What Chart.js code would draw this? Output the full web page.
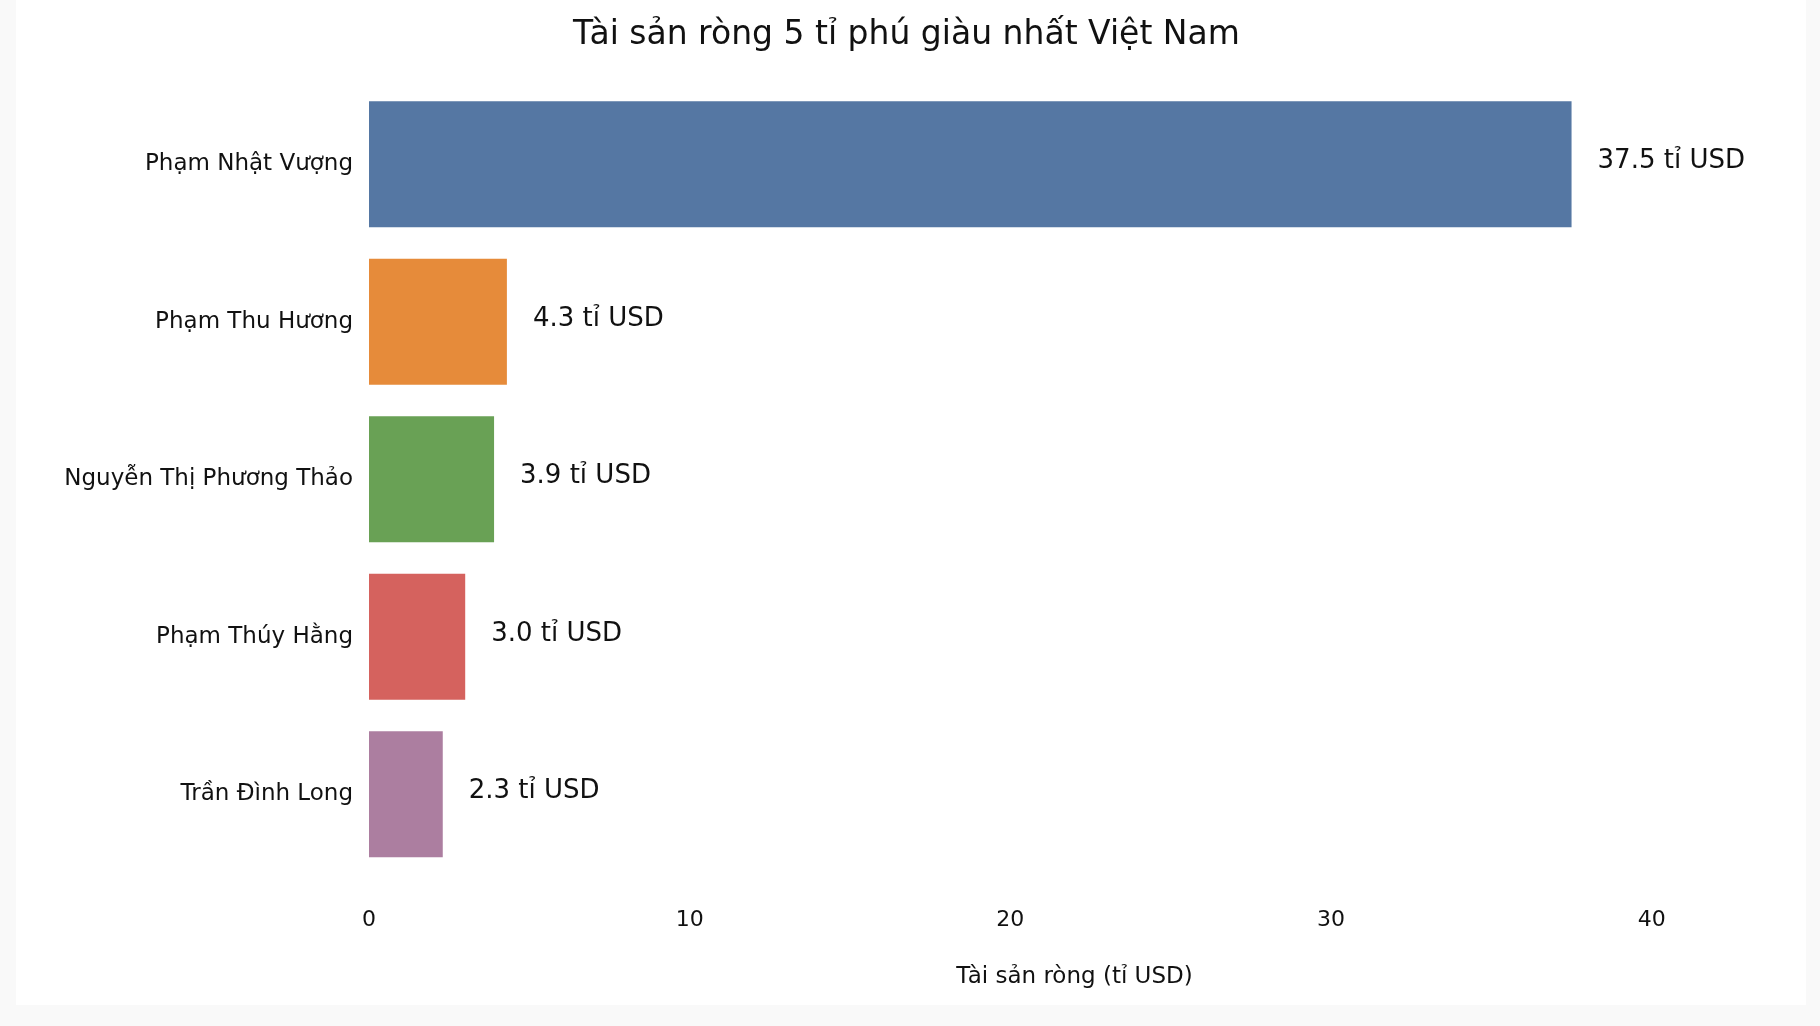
<!DOCTYPE html>
<html><head><meta charset="utf-8">
<script src="https://cdn.jsdelivr.net/npm/chart.js@4"></script>
<style>
html,body{margin:0;padding:0;background:#f9f9f9;width:1820px;height:1026px;overflow:hidden}
#wrap{position:absolute;left:16px;top:0;width:1790px;height:1005px;background:#fff}
</style></head><body>
<div id="wrap"><canvas id="c"></canvas></div>
<script>
const categories = ["Phạm Nhật Vượng","Phạm Thu Hương","Nguyễn Thị Phương Thảo","Phạm Thúy Hằng","Trần Đình Long"];
const values = [37.5, 4.3, 3.9, 3.0, 2.3];
const colors = ["#5577a3","#e68b3a","#69a155","#d5625e","#ac7ea0"];
const FONT = "'DejaVu Sans', sans-serif";
const labelPlugin = {
  id:'labels',
  afterDatasetsDraw(chart){
    const ctx = chart.ctx, meta = chart.getDatasetMeta(0);
    ctx.save();
    ctx.font = "26px " + FONT; ctx.fillStyle = "#111"; ctx.textBaseline = "middle";
    meta.data.forEach((b,i)=>{ ctx.fillText(values[i].toFixed(1)+" tỉ USD", b.x+26, b.y-3); });
    ctx.restore();
  }
};
new Chart(document.getElementById('c'), {
  type:'bar',
  data:{labels:categories, datasets:[{data:values, backgroundColor:colors, categoryPercentage:1, barPercentage:0.8}]},
  plugins:[labelPlugin],
  options:{
    indexAxis:'y', responsive:true, maintainAspectRatio:false, animation:false,
    layout:{padding:{left:0,right:9,top:0,bottom:10}},
    plugins:{legend:{display:false}, tooltip:{enabled:false},
      title:{display:true, text:"Tài sản ròng 5 tỉ phú giàu nhất Việt Nam", color:"#111",
        font:{family:FONT,size:33,weight:'normal'}, padding:{top:16,bottom:30}}},
    scales:{
      x:{min:0,max:44, grid:{display:false}, border:{display:false},
        ticks:{stepSize:10, color:"#111", font:{family:FONT,size:22}, padding:26,
          callback:v=> v%10===0 ? v : ''},
        title:{display:true,text:"Tài sản ròng (tỉ USD)",color:"#111",font:{family:FONT,size:23},padding:{top:4}}},
      y:{grid:{display:false}, border:{display:false},
        ticks:{color:"#111", font:{family:FONT,size:23}, padding:8},
        afterFit(s){ s.width = 353; }}
    }
  }
});
</script></body></html>
